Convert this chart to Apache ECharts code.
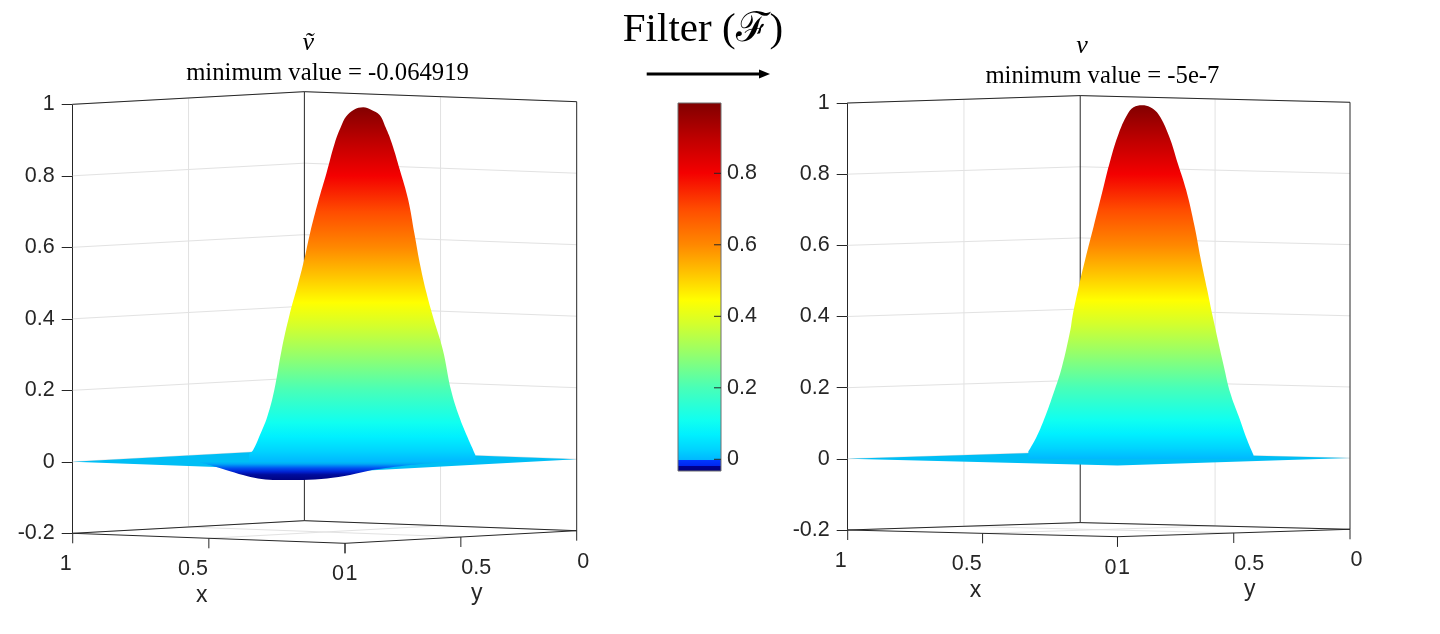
<!DOCTYPE html>
<html>
<head>
<meta charset="utf-8">
<script src="https://cdn.jsdelivr.net/npm/echarts@6.0.0/dist/echarts.min.js"></script>
<style>
html,body{margin:0;padding:0;background:#ffffff;}
#chart{width:1440px;height:634px;}
</style>
</head>
<body>
<div id="chart"></div>
<script>
// ---------------- data ----------------
const zTicks = [-0.2, 0, 0.2, 0.4, 0.6, 0.8, 1];
const xTickValues = [1, 0.5, 0];
const xTickLabels = ['1', '0.5', '0'];
const yTickValues = [1, 0.5, 0];
const yTickLabels = ['1', '0.5', '0'];
const colorbarTicks = [0, 0.2, 0.4, 0.6, 0.8];
const colorbarRange = [-0.0327, 0.9966];

// silhouette of the surface in the view: [horizontal view position (0 = left corner, 1 = right corner), z]
const vTildeProfile = [
  [0.350,0.022],[0.358,0.033],[0.370,0.070],[0.386,0.126],[0.400,0.201],[0.4145,0.313],
  [0.430,0.410],[0.447,0.497],[0.459,0.563],[0.471,0.640],[0.4875,0.730],[0.5036,0.808],
  [0.520,0.892],[0.533,0.940],[0.5425,0.966],[0.558,0.985],[0.5766,0.992],[0.592,0.985],
  [0.609,0.970],[0.621,0.935],[0.633,0.892],[0.649,0.817],[0.6657,0.733],[0.6778,0.640],
  [0.690,0.546],[0.702,0.472],[0.716,0.400],[0.7345,0.313],[0.7506,0.201],[0.767,0.126],
  [0.783,0.070],[0.799,0.019]
];
// the depression of the left surface below z = 0
const vTildeDip = [
  [0.2526,-0.0022],[0.2724,-0.0092],[0.304,-0.023],[0.3379,-0.0372],[0.3676,-0.047],
  [0.3974,-0.0512],[0.4569,-0.0512],[0.5046,-0.047],[0.5502,-0.0372],[0.5938,-0.0232],
  [0.630,-0.0162],[0.6693,-0.0092],[0.7288,-0.0022]
];
const vProfile = [
  [0.3596,0.0205],[0.3763,0.0627],[0.3932,0.119],[0.4099,0.185],[0.4266,0.259],[0.4434,0.363],
  [0.4475,0.400],[0.460,0.484],[0.4726,0.559],[0.4896,0.653],[0.5063,0.747],[0.523,0.840],
  [0.5397,0.915],[0.5564,0.967],[0.569,0.988],[0.586,0.994],[0.6026,0.988],[0.6193,0.967],
  [0.640,0.906],[0.657,0.831],[0.6737,0.756],[0.6906,0.653],[0.7032,0.559],[0.7157,0.475],
  [0.7267,0.400],[0.749,0.259],[0.7617,0.185],[0.7786,0.119],[0.7953,0.053],[0.8079,0.011]
];
const floorLevel = 0;

const mainTitle = 'Filter (\u2131)';
const leftName = '\u1E7D';
const leftTitle = 'minimum value = -0.064919';
const rightName = 'v';
const rightTitle = 'minimum value = -5e-7';

// colormap anchors [value, colour]
const colormap = [
  [-0.0327,'#000080'],[-0.017,'#000090'],[-0.016,'#0028f0'],[-0.001,'#0038ff'],
  [0.0,'#00b8ff'],[0.03,'#00d4ff'],[0.07,'#00f0ff'],[0.11,'#10fff0'],[0.2,'#48ffb8'],
  [0.3,'#98ff68'],[0.38,'#d4ff2c'],[0.445,'#ffff00'],[0.52,'#ffc400'],[0.6,'#ff8800'],
  [0.7,'#ff4c00'],[0.8,'#f40000'],[0.9,'#bc0000'],[0.9966,'#800000']
];
// shading seen on the depression (screen height -> colour)
const dipShades = [
  [-0.052,'#000080'],[-0.036,'#000c9c'],[-0.028,'#0022d2'],[-0.018,'#0050f0'],
  [-0.006,'#00a8f8'],[0.0,'#00bef5']
];

// ---------------- view / style ----------------
const views = [
  {hF:0.5403, dF:-0.028, dR:0.0073},
  {hF:0.5371, dF:-0.0188, dR:0.002}
];
const axisColor = '#262626';
const gridColor = '#e2e2e2';
const floorColor = '#00bef5';
const sansFont = '"Liberation Sans", Arial, sans-serif';
const serifFont = '"Liberation Serif", "DejaVu Serif", serif';
const tickFontSize = 21.5;

function proj(v, x, y, z) {
  return [v.hF * (1 - x) + (1 - y) * (1 - v.hF), z + v.dF * (1 - x) + (1 - y) * (v.dR - v.dF)];
}

function hex2rgb(h){ return [parseInt(h.substr(1,2),16),parseInt(h.substr(3,2),16),parseInt(h.substr(5,2),16)]; }
function rgb2hex(c){ return '#' + c.map(function(x){ const s = Math.round(x).toString(16); return s.length<2?'0'+s:s; }).join(''); }
function mapAt(map, z) {
  if (z <= map[0][0]) return map[0][1];
  for (let i = 1; i < map.length; i++) {
    if (z <= map[i][0]) {
      const a = map[i-1], b = map[i];
      const t = (z - a[0]) / (b[0] - a[0]);
      const ca = hex2rgb(a[1]), cb = hex2rgb(b[1]);
      return rgb2hex([0,1,2].map(function(k){ return ca[k] + (cb[k]-ca[k])*t; }));
    }
  }
  return map[map.length-1][1];
}
function gradient(map, zTop, zBottom) {
  const stops = [{offset:0, color:mapAt(map, zTop)}];
  map.forEach(function(a){
    if (a[0] < zTop && a[0] > zBottom) stops.push({offset:(zTop - a[0]) / (zTop - zBottom), color:a[1]});
  });
  stops.push({offset:1, color:mapAt(map, zBottom)});
  stops.sort(function(p,q){ return p.offset - q.offset; });
  return new echarts.graphic.LinearGradient(0,0,0,1,stops);
}

// box frame and wall grid lines in 3D (x, y, z)
const zMin = zTicks[0], zMax = zTicks[zTicks.length-1];
const boxEdges = [
  [1,1,zMax,1,0,zMax],[1,0,zMax,0,0,zMax],
  [1,0,zMin,1,0,zMax],[0,0,zMin,0,0,zMax],
  [1,1,zMin,1,0,zMin],[1,0,zMin,0,0,zMin],
  [1,1,zMin,0,1,zMin],[0,1,zMin,0,0,zMin]
];
const gridEdges = [];
zTicks.forEach(function(z){ gridEdges.push([1,1,z,1,0,z]); gridEdges.push([1,0,z,0,0,z]); });
gridEdges.push([1,0.5,zMin,1,0.5,zMax],[0.5,0,zMin,0.5,0,zMax],[0.5,0,zMin,0.5,1,zMin],[0,0.5,zMin,1,0.5,zMin]);

const tickItems = [];
xTickValues.forEach(function(v,i){ tickItems.push([0, v, i]); });
yTickValues.forEach(function(v,i){ tickItems.push([1, v, i]); });
tickItems.push([2, 0.5, 0], [3, 0.5, 0]);

function edgeRenderer(v, color) {
  return function(params, api) {
    const a = api.coord(proj(v, api.value(0), api.value(1), api.value(2)));
    const b = api.coord(proj(v, api.value(3), api.value(4), api.value(5)));
    return {type:'line', shape:{x1:a[0],y1:a[1],x2:b[0],y2:b[1]}, style:{stroke:color, lineWidth:1}};
  };
}
function floorRenderer(v) {
  return function(params, api) {
    const z = api.value(1);
    const pts = [[1,1],[0,1],[0,0],[1,0]].map(function(c){ return api.coord(proj(v, c[0], c[1], z)); });
    return {type:'polygon', shape:{points:pts}, style:{fill:floorColor}};
  };
}
function tickRenderer(v) {
  return function(params, api) {
    const kind = api.value(0), val = api.value(1), idx = api.value(2);
    const p3 = (kind === 0 || kind === 2) ? [val, 1, zMin] : [0, val, zMin];
    const p = api.coord(proj(v, p3[0], p3[1], p3[2]));
    if (kind >= 2) {
      return {type:'text', x: p[0] + (kind === 2 ? -7 : 16), y: p[1] + 57,
        style:{text: kind === 2 ? 'x' : 'y', font:'23px ' + sansFont, fill:axisColor, textAlign:'center', textVerticalAlign:'middle'}};
    }
    return {type:'group', children:[
      {type:'line', shape:{x1:p[0],y1:p[1],x2:p[0],y2:p[1]+10}, style:{stroke:axisColor, lineWidth:1}},
      {type:'text', x: kind === 0 ? p[0]-1 : p[0]+0.5, y: p[1]+31,
        style:{text: kind === 0 ? xTickLabels[idx] : yTickLabels[idx], font:tickFontSize + 'px ' + sansFont, fill:axisColor,
          textAlign: kind === 0 ? 'right' : 'left', textVerticalAlign:'middle'}}
    ]};
  };
}

function chartSeries(k, profile, dip) {
  const v = views[k];
  const s = [];
  s.push({type:'custom', xAxisIndex:k, yAxisIndex:k, z:1, silent:true, data:gridEdges, renderItem:edgeRenderer(v, gridColor)});
  s.push({type:'custom', xAxisIndex:k, yAxisIndex:k, z:2, silent:true, data:boxEdges, renderItem:edgeRenderer(v, axisColor)});
  s.push({type:'custom', xAxisIndex:k, yAxisIndex:k, z:3, silent:true, data:[[0.5, floorLevel]], renderItem:floorRenderer(v)});
  if (dip) {
    const dMin = Math.min.apply(null, dip.map(function(p){ return p[1]; }));
    s.push({type:'line', xAxisIndex:k, yAxisIndex:k, z:4, silent:true, data:dip, symbol:'none', smooth:0.3,
      lineStyle:{width:0}, areaStyle:{opacity:1, color:gradient(dipShades, 0, dMin)}});
  }
  const pMax = Math.max.apply(null, profile.map(function(p){ return p[1]; }));
  s.push({type:'line', xAxisIndex:k, yAxisIndex:k, z:5, silent:true, data:profile, symbol:'none', smooth:0.4,
    lineStyle:{width:0}, areaStyle:{opacity:1, color:gradient(colormap, pMax, 0)}});
  s.push({type:'custom', xAxisIndex:k, yAxisIndex:k, z:6, silent:true, data:tickItems, renderItem:tickRenderer(v)});
  return s;
}

function zAxis(gi) {
  return {gridIndex:gi, type:'value', min:zMin, max:zMax, interval:0.2,
    axisLine:{show:true, lineStyle:{color:axisColor, width:1}},
    axisTick:{show:true, length:11, lineStyle:{color:axisColor}},
    axisLabel:{margin:18, fontSize:tickFontSize, fontFamily:sansFont, color:axisColor},
    splitLine:{show:false}};
}

const chart = echarts.init(document.getElementById('chart'), null, {renderer:'canvas'});
const option = {
  animation:false,
  backgroundColor:'#ffffff',
  grid:[
    {left:72.7, top:104.3, width:504, height:429},
    {left:847.7, top:103, width:502.3, height:427},
    {left:678, top:103, width:43, height:368}
  ],
  xAxis:[
    {gridIndex:0, type:'value', min:0, max:1, show:false},
    {gridIndex:1, type:'value', min:0, max:1, show:false},
    {gridIndex:2, type:'value', min:0, max:1, show:false}
  ],
  yAxis:[
    zAxis(0), zAxis(1),
    {gridIndex:2, type:'value', position:'right', min:colorbarRange[0], max:colorbarRange[1], z:10,
      axisLine:{show:false},
      axisTick:{show:false},
      axisLabel:{margin:6, fontSize:tickFontSize, fontFamily:sansFont, color:axisColor, customValues:colorbarTicks},
      splitLine:{show:false}}
  ],
  graphic:[
    {type:'text', x:703, y:30, style:{text:mainTitle, font:'41px ' + serifFont, fill:'#000', textAlign:'center', textVerticalAlign:'middle'}},
    {type:'line', shape:{x1:646.7, y1:74, x2:762, y2:74}, style:{stroke:'#000', lineWidth:3}},
    {type:'polygon', shape:{points:[[759,69.5],[770,74],[759,78.5]]}, style:{fill:'#000'}},
    {type:'text', x:308.3, y:43, style:{text:leftName, font:'italic 26px ' + serifFont, fill:'#000', textAlign:'center', textVerticalAlign:'middle'}},
    {type:'text', x:327.5, y:74, style:{text:leftTitle, font:'24.7px ' + serifFont, fill:'#000', textAlign:'center', textVerticalAlign:'middle'}},
    {type:'text', x:1082, y:46.6, style:{text:rightName, font:'italic 26px ' + serifFont, fill:'#000', textAlign:'center', textVerticalAlign:'middle'}},
    {type:'text', x:1102.4, y:76.6, style:{text:rightTitle, font:'24.7px ' + serifFont, fill:'#000', textAlign:'center', textVerticalAlign:'middle'}}
  ],
  series: [].concat(
    chartSeries(0, vTildeProfile, vTildeDip),
    chartSeries(1, vProfile, null),
    [{type:'custom', xAxisIndex:2, yAxisIndex:2, z:2, silent:true, data:[[0.5, colorbarRange[0], colorbarRange[1]]],
      renderItem:function(params, api){
        const lo = api.value(1), hi = api.value(2);
        const a = api.coord([0, hi]);
        const b = api.coord([1, lo]);
        const children = [{type:'rect', shape:{x:a[0], y:a[1], width:b[0]-a[0], height:b[1]-a[1]},
          style:{fill:gradient(colormap, hi, lo), stroke:'#6e6e6e', lineWidth:1}}];
        colorbarTicks.forEach(function(t){
          const p = api.coord([1, t]);
          children.push({type:'line', shape:{x1:p[0]-7, y1:p[1], x2:p[0], y2:p[1]}, style:{stroke:axisColor, lineWidth:1}});
        });
        return {type:'group', children:children};
      }}]
  )
};
chart.setOption(option);
</script>
</body>
</html>
